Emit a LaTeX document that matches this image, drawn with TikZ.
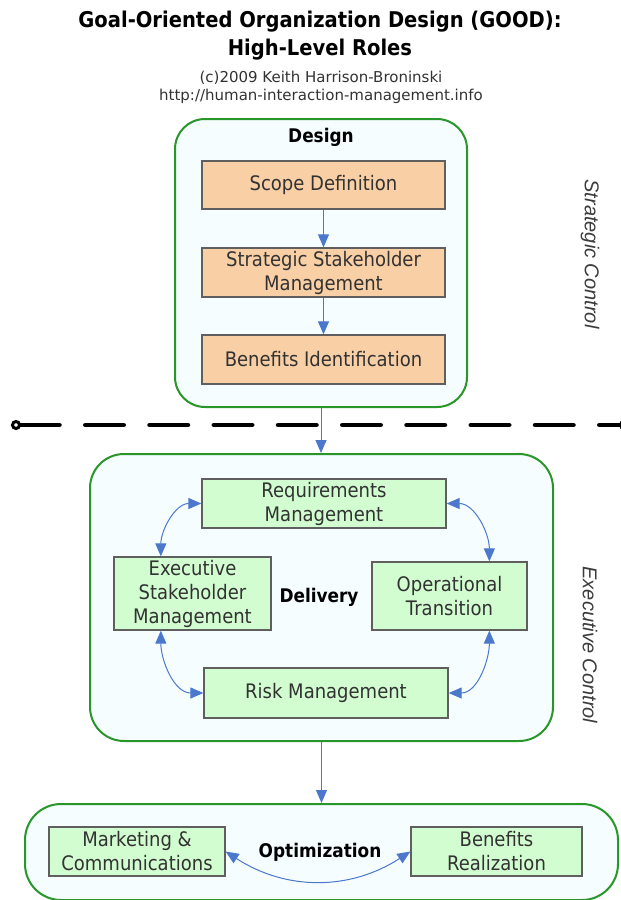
\documentclass[tikz,border=0pt]{standalone}
\usepackage{fontspec}
\setmainfont{DejaVu Sans}[FakeStretch=0.9]
\newfontfamily\subfont{DejaVu Sans}
\newfontfamily\sidefont{Liberation Sans}
\usetikzlibrary{arrows.meta,calc}
\definecolor{cgreen}{RGB}{40,150,40}
\definecolor{cbg}{RGB}{245,253,255}
\definecolor{corange}{RGB}{249,207,166}
\definecolor{cgbox}{RGB}{210,253,208}
\definecolor{cborder}{RGB}{95,95,95}
\definecolor{ctext}{RGB}{50,50,50}
\definecolor{cblue}{RGB}{75,120,205}
\definecolor{cside}{RGB}{60,60,60}
\begin{document}
\begin{tikzpicture}[x=1pt,y=1pt,
  container/.style={draw=cgreen, line width=2pt, fill=cbg, rounded corners=#1, inner sep=0pt},
  container/.default=30pt,
  rolebox/.style={draw=cborder, line width=1.3pt, text=ctext, align=center, inner sep=0pt,
    font=\fontsize{20}{24}\selectfont},
  orangebox/.style={rolebox, fill=corange},
  greenbox/.style={rolebox, fill=cgbox},
  grouplbl/.style={font=\fontsize{18.8}{22}\selectfont\bfseries, text=black, inner sep=0pt},
  sidelbl/.style={font=\sidefont\fontsize{20}{24}\selectfont\itshape, text=cside, rotate=-90, inner sep=0pt},
  arr/.style={draw=cblue, line width=1pt, -{Triangle[length=13pt,width=11pt]}},
  darr/.style={draw=cblue, line width=1pt, {Triangle[length=13pt,width=11pt]}-{Triangle[length=13pt,width=11pt]}},
  titlelbl/.style={font=\fontsize{21.7}{24}\selectfont\bfseries, text=black, inner sep=0pt, anchor=base},
  sublbl/.style={font=\subfont\fontsize{15}{16}\selectfont, text=black!80, inner sep=0pt, anchor=base}
]
\useasboundingbox (0,0) rectangle (621,-900);
\fill[white] (0,0) rectangle (621,-900);

% titles
\node[titlelbl] (t1) at (320,-27) {Goal-Oriented Organization Design (GOOD):};
\node[titlelbl] (t2) at (320,-55) {High-Level Roles};
\node[sublbl] (s1) at (321,-82) {(c)2009 Keith Harrison-Broninski};
\node[sublbl] (s2) at (321,-100) {http://human-interaction-management.info};

% dashed divider
\coordinate (lc) at (16,-425);
\coordinate (dl) at (21,-425);
\coordinate (dr) at (621,-425);
\coordinate (rc) at (624,-425);
\draw[line width=4.5pt] (lc) -- (dl);
\draw[line width=4.5pt, dash pattern=on 38.5pt off 25.75pt, line cap=round] (dl) -- (dr);
\draw[line width=3pt, fill=white] (lc) circle (3.5pt);
\draw[line width=3pt, fill=white] (rc) circle (3.5pt);

% Design
\node[container=30pt, minimum width=292pt, minimum height=288pt] (design) at (321,-263) {};
\node[grouplbl] (designlbl) at (321,-137) {Design};
\node[orangebox, minimum width=243pt, minimum height=48pt] (scope) at (323.5,-185) {Scope Definition};
\node[orangebox, minimum width=243pt, minimum height=49pt] (ssm) at (323.5,-272.5) {Strategic Stakeholder\\Management};
\node[orangebox, minimum width=243pt, minimum height=49pt] (bid) at (323.5,-359.5) {Benefits Identification};
\draw[arr] (scope) -- (ssm);
\draw[arr] (ssm) -- (bid);

% Delivery
\node[container=34pt, minimum width=463pt, minimum height=287pt] (delivery) at (321.5,-597.5) {};
\node[grouplbl] (deliverylbl) at (319,-597) {Delivery};
\node[greenbox, minimum width=244pt, minimum height=49pt] (req) at (324,-503.5) {Requirements\\Management};
\node[greenbox, minimum width=157pt, minimum height=73pt] (esm) at (192.5,-593.5) {Executive\\Stakeholder\\Management};
\node[greenbox, minimum width=155pt, minimum height=68pt] (opt) at (449.5,-596) {Operational\\Transition};
\node[greenbox, minimum width=244pt, minimum height=50pt] (risk) at (326,-693) {Risk Management};

\draw[arr] (design.south) -- (design.south |- delivery.north);

\draw[darr] (req.west) to[out=180,in=90] ($(esm.north west)!0.3!(esm.north east)$);
\draw[darr] (req.east) to[out=0,in=90] ($(opt.north west)!0.755!(opt.north east)$);
\draw[darr] ($(esm.south west)!0.3!(esm.south east)$) to[out=270,in=180] (risk.west);
\draw[darr] ($(opt.south west)!0.755!(opt.south east)$) to[out=270,in=0] (risk.east);

\node[sidelbl] (strat) at (590,-254) {Strategic Control};
\node[sidelbl] (exec) at (590,-645) {Executive Control};

% Optimization
\node[container=36pt, minimum width=593pt, minimum height=96pt] (optim) at (321.5,-852) {};
\node[grouplbl] (optimlbl) at (320,-852) {Optimization};
\node[greenbox, minimum width=176pt, minimum height=49pt] (mkt) at (137,-851.5) {Marketing \&\\Communications};
\node[greenbox, minimum width=171pt, minimum height=49pt] (ben) at (496.5,-851.5) {Benefits\\Realization};
\draw[arr] (delivery.south) -- (delivery.south |- optim.north);
\draw[darr] (mkt.east) to[bend right=33] (ben.west);
\end{tikzpicture}
\end{document}
